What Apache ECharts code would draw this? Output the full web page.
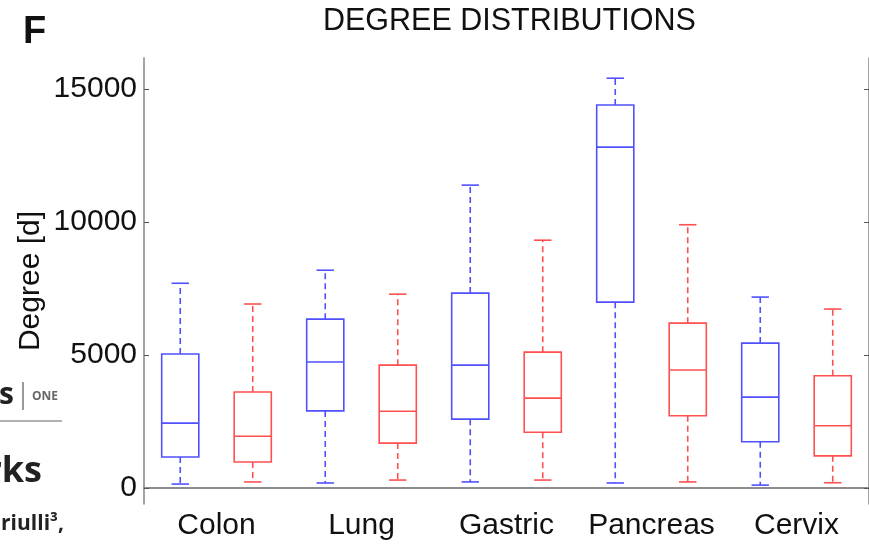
<!DOCTYPE html>
<html>
<head>
<meta charset="UTF-8">
<title>Degree distributions</title>
<script src="https://cdn.jsdelivr.net/npm/echarts@6/dist/echarts.min.js"></script>
<style>
  html, body { margin: 0; padding: 0; background: #fff; }
  #chart { width: 869px; height: 544px; }
</style>
</head>
<body>
<div id="chart"></div>
<script>
// cancer types along the x axis
var categories = ['Colon', 'Lung', 'Gastric', 'Pancreas', 'Cervix'];
// box stats per type: [min, q1, median, q3, max]
var blueBoxes = [
  [150, 1170, 2440, 5040, 7700],
  [190, 2900, 4740, 6350, 8190],
  [230, 2590, 4620, 7330, 11390],
  [190, 6990, 12820, 14400, 15410],
  [110, 1740, 3420, 5450, 7180]
];
var redBoxes = [
  [230, 980, 1950, 3610, 6920],
  [300, 1690, 2890, 4620, 7290],
  [300, 2100, 3380, 5110, 9320],
  [230, 2720, 4440, 6200, 9900],
  [200, 1210, 2340, 4220, 6730]
];
var yTicks = [0, 5000, 10000, 15000];

var FONT = '"Liberation Sans", Arial, Helvetica, sans-serif';

function toRows(boxes) {
  return boxes.map(function (b, i) { return [i].concat(b); });
}

// draws one box: solid box + median, dashed whiskers, solid caps
function boxRenderer(color, shift) {
  return function (params, api) {
    var cat = api.value(0);
    var band = api.size([1, 0])[0];
    var x = api.coord([cat, 0])[0] + shift * band;
    var yMin = api.coord([cat, api.value(1)])[1];
    var yQ1 = api.coord([cat, api.value(2)])[1];
    var yMed = api.coord([cat, api.value(3)])[1];
    var yQ3 = api.coord([cat, api.value(4)])[1];
    var yMax = api.coord([cat, api.value(5)])[1];
    var half = band * 0.128;
    var cap = band * 0.06;
    var solid = { stroke: color, lineWidth: 1.6, fill: null };
    var dashed = { stroke: color, lineWidth: 1.6, lineDash: [6, 4] };
    return {
      type: 'group',
      children: [
        { type: 'line', shape: { x1: x, y1: yQ3, x2: x, y2: yMax }, style: dashed },
        { type: 'line', shape: { x1: x, y1: yQ1, x2: x, y2: yMin }, style: dashed },
        { type: 'line', shape: { x1: x - cap, y1: yMax, x2: x + cap, y2: yMax }, style: solid },
        { type: 'line', shape: { x1: x - cap, y1: yMin, x2: x + cap, y2: yMin }, style: solid },
        { type: 'rect', shape: { x: x - half, y: yQ3, width: half * 2, height: yQ1 - yQ3 }, style: solid },
        { type: 'line', shape: { x1: x - half, y1: yMed, x2: x + half, y2: yMed }, style: solid }
      ]
    };
  };
}

var chart = echarts.init(document.getElementById('chart'));

var axisLineStyle = { color: '#858585', width: 1.5 };
var tickStyle = { color: '#555', width: 1 };

var option = {
  animation: false,
  backgroundColor: '#fff',
  title: {
    text: 'DEGREE DISTRIBUTIONS',
    left: 323,
    top: 6,
    padding: 0,
    textStyle: { fontFamily: FONT, fontSize: 30.5, fontWeight: 'normal', color: '#111' }
  },
  grid: { left: 144, top: 58, width: 727, height: 446 },
  xAxis: [{
    type: 'category',
    data: categories,
    position: 'bottom',
    boundaryGap: true,
    axisLine: { lineStyle: axisLineStyle },
    axisTick: { inside: true, alignWithLabel: true, interval: 0, length: 5, lineStyle: tickStyle },
    axisLabel: { interval: 0, fontFamily: FONT, fontSize: 30, color: '#111', margin: 7 },
    splitLine: { show: false }
  }, {
    type: 'category',
    data: categories,
    position: 'top',
    boundaryGap: true,
    axisLine: { lineStyle: axisLineStyle },
    axisTick: { inside: true, alignWithLabel: true, interval: 0, length: 5, lineStyle: tickStyle },
    axisLabel: { show: false },
    splitLine: { show: false }
  }],
  yAxis: [{
    type: 'value',
    min: -600,
    max: 16170,
    name: 'Degree [d]',
    nameLocation: 'middle',
    nameGap: 98,
    nameMoveOverlap: false,
    nameTextStyle: { fontFamily: FONT, fontSize: 30, color: '#111' },
    axisLine: { show: true, lineStyle: axisLineStyle },
    axisTick: { show: true, inside: true, length: 5, customValues: yTicks, lineStyle: tickStyle },
    axisLabel: {
      fontFamily: FONT, fontSize: 30, color: '#111', margin: 7, customValues: yTicks,
      formatter: function (v) { return String(v); }
    },
    splitLine: { show: false }
  }, {
    type: 'value',
    min: -600,
    max: 16170,
    position: 'right',
    axisLine: { show: true, lineStyle: axisLineStyle },
    axisTick: { show: true, inside: true, length: 5, customValues: yTicks, lineStyle: tickStyle },
    axisLabel: { show: false },
    splitLine: { show: false }
  }],
  graphic: [
    { type: 'text', left: 23, top: 14, style: { text: 'F', fontFamily: FONT, fontSize: 38, fontWeight: 'bold', fill: '#111' } },
    // bits of the surrounding page that show at the left edge
    { type: 'text', x: 14, y: 410, style: { text: 's', align: 'right', verticalAlign: 'bottom', fontFamily: '"Open Sans", sans-serif', fontSize: 30, fontWeight: 'bold', fill: '#222' } },
    { type: 'line', shape: { x1: 23, y1: 382, x2: 23, y2: 410 }, style: { stroke: '#777', lineWidth: 1.5 } },
    { type: 'text', x: 32, y: 403, style: { text: 'ONE', verticalAlign: 'bottom', fontFamily: '"Open Sans", sans-serif', fontSize: 12, fontWeight: 'bold', fill: '#666' } },
    { type: 'line', shape: { x1: 0, y1: 421, x2: 62, y2: 421 }, style: { stroke: '#999', lineWidth: 1.5 } },
    { type: 'text', x: 42, y: 490, style: { text: 'rks', align: 'right', verticalAlign: 'bottom', fontFamily: '"Open Sans", sans-serif', fontSize: 36, fontWeight: 'bold', fill: '#222' } },
    { type: 'text', x: 64, y: 535, style: { text: 'driulli\u00b3,', align: 'right', verticalAlign: 'bottom', fontFamily: '"Open Sans", sans-serif', fontSize: 21, fontWeight: 'bold', fill: '#222' } }
  ],
  series: [{
    name: 'Blue',
    type: 'custom',
    xAxisIndex: 0,
    yAxisIndex: 0,
    renderItem: boxRenderer('#5050ff', -0.25),
    encode: { x: 0, y: [1, 2, 3, 4, 5] },
    data: toRows(blueBoxes)
  }, {
    name: 'Red',
    type: 'custom',
    xAxisIndex: 0,
    yAxisIndex: 0,
    renderItem: boxRenderer('#ff5050', 0.25),
    encode: { x: 0, y: [1, 2, 3, 4, 5] },
    data: toRows(redBoxes)
  }]
};

chart.setOption(option);
</script>
</body>
</html>
